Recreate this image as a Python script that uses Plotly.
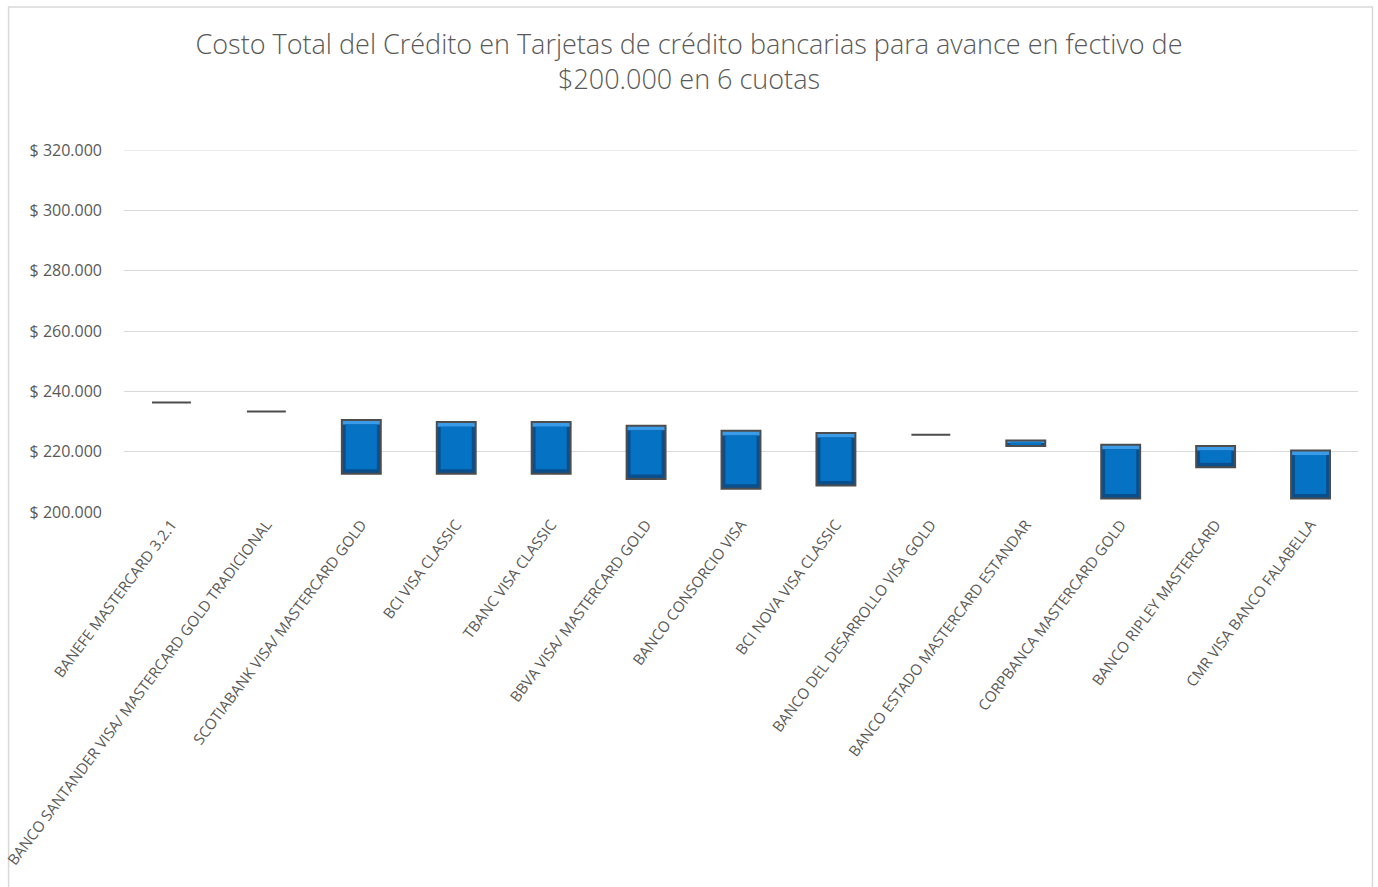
import plotly.graph_objects as go

tarjetas = [
    "BANEFE MASTERCARD 3.2.1",
    "BANCO SANTANDER VISA/ MASTERCARD GOLD TRADICIONAL",
    "SCOTIABANK VISA/ MASTERCARD GOLD",
    "BCI VISA CLASSIC",
    "TBANC VISA CLASSIC",
    "BBVA VISA/ MASTERCARD GOLD",
    "BANCO CONSORCIO VISA",
    "BCI NOVA VISA CLASSIC",
    "BANCO DEL DESARROLLO VISA GOLD",
    "BANCO ESTADO MASTERCARD ESTANDAR",
    "CORPBANCA MASTERCARD GOLD",
    "BANCO RIPLEY MASTERCARD",
    "CMR VISA BANCO FALABELLA",
]
costo_minimo = [236300, 233300, 212700, 212700, 212700, 210900, 207700, 208800, 225600, 221900, 204500, 214800, 204500]
costo_maximo = [236300, 233300, 230500, 229800, 229800, 228600, 226900, 226200, 225600, 223700, 222300, 221900, 220400]

titulo = "Costo Total del Crédito en Tarjetas de crédito bancarias para avance en fectivo de<br>$200.000 en 6 cuotas"
y_ticks = [200000, 220000, 240000, 260000, 280000, 300000, 320000]
y_ticktext = ["$ " + f"{v:,}".replace(",", ".") for v in y_ticks]

W, H = 1378, 887
L, R, T, B = 123.5, 19.5, 150, 375
BAR_W = 0.41
BEVEL = 1500  # depth of the bevel effect in axis units

alto = [mx - mn for mn, mx in zip(costo_minimo, costo_maximo)]
bisel = [min(BEVEL, h / 3) for h in alto]

fig = go.Figure()
# dark base (bevel edges)
fig.add_trace(go.Bar(x=tarjetas, y=alto, base=costo_minimo, width=BAR_W,
                     marker=dict(color="#0A4F8C", line=dict(width=0)), hoverinfo="skip"))
# light top bevel
fig.add_trace(go.Bar(x=tarjetas, y=bisel, base=[mx - b for mx, b in zip(costo_maximo, bisel)], width=BAR_W,
                     marker=dict(color="#3A9BE8", line=dict(width=0)), hoverinfo="skip"))
# main face
fig.add_trace(go.Bar(x=tarjetas, y=[h - 2 * b for h, b in zip(alto, bisel)],
                     base=[mn + b for mn, b in zip(costo_minimo, bisel)], width=BAR_W * 0.8,
                     marker=dict(color="#0672C4", line=dict(width=0)), hoverinfo="skip"))
# outline
fig.add_trace(go.Bar(x=tarjetas, y=alto, base=costo_minimo, width=BAR_W,
                     marker=dict(color="rgba(0,0,0,0)", line=dict(color="#4d4d4d", width=2)), hoverinfo="skip"))

fig.update_layout(
    width=W, height=H,
    margin=dict(l=L, r=R, t=T, b=B, autoexpand=False),
    paper_bgcolor="white", plot_bgcolor="white",
    showlegend=False,
    barmode="overlay",
    font=dict(family="Open Sans", color="#595959"),
    title=dict(text=titulo, x=0.5, xanchor="center", xref="container",
               y=1 - 54 / H, yanchor="top", yref="container",
               font=dict(size=27, color="#595959", family="Open Sans", weight=300)),
)
fig.update_yaxes(range=[y_ticks[0], y_ticks[-1]], tickvals=y_ticks, ticktext=y_ticktext,
                 showgrid=True, gridcolor="#d9d9d9", gridwidth=1, zeroline=False,
                 showline=False, ticks="", ticklabelstandoff=21,
                 tickfont=dict(size=16, color="#595959"))
fig.update_xaxes(tickangle=-53, showgrid=False, showline=False, ticks="",
                 tickfont=dict(size=15, color="#595959"))

# top gridline (plotly skips gridlines on the plot edge)
fig.add_shape(type="line", xref="paper", yref="y", x0=0, x1=1, y0=y_ticks[-1], y1=y_ticks[-1],
              line=dict(color="#d9d9d9", width=1), layer="below")
# chart border
fig.add_shape(type="rect", xref="paper", yref="paper",
              x0=(8 - L) / (W - L - R), x1=(1373 - L) / (W - L - R),
              y0=(H - B - 900) / (H - T - B), y1=(H - B - 7) / (H - T - B),
              line=dict(color="#d9d9d9", width=1.5), fillcolor="rgba(0,0,0,0)", layer="below")

fig.write_html("out.html", config={"displayModeBar": False},
               post_script="document.body.style.margin='0';")
